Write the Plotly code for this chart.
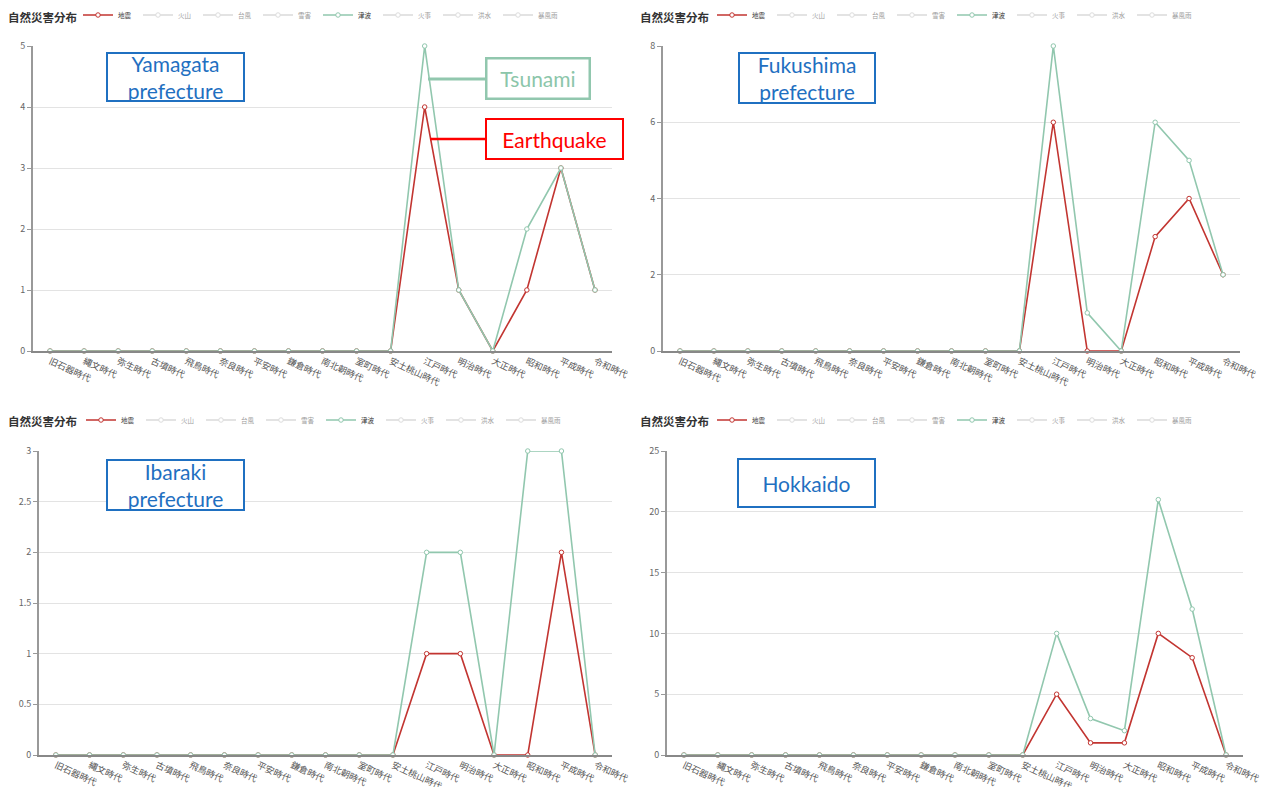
import plotly.graph_objects as go

W, H = 1261, 787

eras = ["旧石器時代", "縄文時代", "弥生時代", "古墳時代", "飛鳥時代", "奈良時代", "平安時代",
        "鎌倉時代", "南北朝時代", "室町時代", "安土桃山時代", "江戸時代", "明治時代", "大正時代",
        "昭和時代", "平成時代", "令和時代"]
hazards = ["地震", "火山", "台風", "雪害", "津波", "火事", "洪水", "暴風雨"]
chart_title = "自然災害分布"
region_names = ["Yamagata<br>prefecture", "Fukushima<br>prefecture", "Ibaraki<br>prefecture", "Hokkaido"]

yamagata_quake   = [0, 0, 0, 0, 0, 0, 0, 0, 0, 0, 0, 4, 1, 0, 1, 3, 1]
yamagata_tsunami = [0, 0, 0, 0, 0, 0, 0, 0, 0, 0, 0, 5, 1, 0, 2, 3, 1]
fukushima_quake   = [0, 0, 0, 0, 0, 0, 0, 0, 0, 0, 0, 6, 0, 0, 3, 4, 2]
fukushima_tsunami = [0, 0, 0, 0, 0, 0, 0, 0, 0, 0, 0, 8, 1, 0, 6, 5, 2]
ibaraki_quake   = [0, 0, 0, 0, 0, 0, 0, 0, 0, 0, 0, 1, 1, 0, 0, 2, 0]
ibaraki_tsunami = [0, 0, 0, 0, 0, 0, 0, 0, 0, 0, 0, 2, 2, 0, 3, 3, 0]
hokkaido_quake   = [0, 0, 0, 0, 0, 0, 0, 0, 0, 0, 0, 5, 1, 1, 10, 8, 0]
hokkaido_tsunami = [0, 0, 0, 0, 0, 0, 0, 0, 0, 0, 0, 10, 3, 2, 21, 12, 0]
# series switched off in the legend (values not shown in the chart)
hidden_series = [None, None, None, None, None, None, None, None, None,
                 None, None, None, None, None, None, None, None]

y_max = [5, 8, 3, 25]
y_step = [1, 2, 0.5, 5]

panels = [
    (yamagata_quake, yamagata_tsunami),
    (fukushima_quake, fukushima_tsunami),
    (ibaraki_quake, ibaraki_tsunami),
    (hokkaido_quake, hokkaido_tsunami),
]

def px(x):
    return x / W

def py(y):
    return 1 - y / H

# plot-area pixel boxes (left, right, top, bottom)
boxes = [(33, 612, 46, 351), (663, 1240, 46, 351), (39, 612, 451, 755), (667, 1243, 451, 755)]
legend_pos = [(318, 15), (952, 15), (321, 420), (952, 420)]
title_pos = [(6, 17), (638, 17), (6, 421), (638, 421)]
label_boxes = [(175.5, 77, 135, 46), (807, 78, 134, 48), (175.5, 485, 135, 48), (806.5, 483, 135, 46)]

colors = {"地震": "#c23531", "津波": "#91c7ae"}
JP = "Noto Sans CJK JP"
EN = "Lato"

fig = go.Figure()
layout = dict(width=W, height=H, margin=dict(l=0, r=0, t=0, b=0, autoexpand=False),
              paper_bgcolor="white", plot_bgcolor="white",
              font=dict(family=JP, color="#333"), showlegend=True,
              annotations=[], shapes=[])

for i, (quake, tsunami) in enumerate(panels):
    n = "" if i == 0 else str(i + 1)
    leg = "legend" if i == 0 else f"legend{i + 1}"
    for hz in hazards:
        if hz in colors:
            ys = quake if hz == "地震" else tsunami
            c = colors[hz]
            fig.add_trace(go.Scatter(
                x=eras, y=ys, name=hz, mode="lines+markers", legend=leg,
                xaxis="x" + n, yaxis="y" + n, cliponaxis=False,
                line=dict(color=c, width=1.6),
                marker=dict(symbol="circle", size=4.5, color="white", line=dict(color=c, width=1)),
            ))
        else:
            fig.add_trace(go.Scatter(
                x=eras, y=hidden_series, name=hz, mode="lines+markers", legend=leg,
                xaxis="x" + n, yaxis="y" + n, visible="legendonly",
                line=dict(color="#bbb", width=1.6),
                marker=dict(symbol="circle", size=4.5, color="white", line=dict(color="#bbb", width=1)),
            ))
    l, r, t, b = boxes[i]
    layout["xaxis" + n] = dict(
        domain=[px(l), px(r)], anchor="y" + n, type="category",
        range=[-0.5, len(eras) - 0.5], tickmode="array", tickvals=eras, ticktext=eras,
        tickangle=25, tickfont=dict(size=9, color="#555", family=JP),
        showline=True, linecolor="#888", linewidth=1.5, showgrid=False, ticks="",
        zeroline=False, fixedrange=True, automargin=False)
    layout["yaxis" + n] = dict(
        domain=[py(b), py(t)], anchor="x" + n, range=[0, y_max[i]], dtick=y_step[i],
        tick0=0, showline=True, linecolor="#999", linewidth=2, ticks="outside",
        ticklen=4, tickcolor="#999", tickfont=dict(size=9, color="#666", family=JP),
        showgrid=True, gridcolor="#e3e3e3", gridwidth=1, zeroline=False, fixedrange=True,
        automargin=False)
    lx, ly = legend_pos[i]
    layout[leg] = dict(orientation="h", x=px(lx), xanchor="center", y=py(ly), yanchor="middle",
                       font=dict(size=6.5, color="#333", family=JP), bgcolor="rgba(0,0,0,0)",
                       entrywidth=15, entrywidthmode="pixels", itemwidth=30,
                       itemclick=False, itemdoubleclick=False)
    tx, ty = title_pos[i]
    layout["annotations"].append(dict(
        text="<b>" + chart_title + "</b>", xref="paper", yref="paper", x=px(tx), y=py(ty),
        xanchor="left", yanchor="middle", showarrow=False,
        font=dict(size=11.5, color="#333", family=JP)))
    cx, cy, bw, bh = label_boxes[i]
    layout["annotations"].append(dict(
        text=region_names[i], xref="paper", yref="paper", x=px(cx), y=py(cy),
        xanchor="center", yanchor="middle", showarrow=False, width=bw, height=bh,
        align="center", valign="middle", bordercolor="#1f70c1", borderwidth=2, borderpad=0,
        bgcolor="white", font=dict(size=21, color="#1f70c1", family=EN)))

# callouts in the first panel
layout["shapes"].append(dict(type="line", xref="paper", yref="paper",
                             x0=px(428), x1=px(485), y0=py(79), y1=py(79),
                             line=dict(color="#91c7ae", width=3)))
layout["shapes"].append(dict(type="line", xref="paper", yref="paper",
                             x0=px(430), x1=px(485), y0=py(139), y1=py(139),
                             line=dict(color="#ff0000", width=2.5)))
layout["annotations"].append(dict(
    text="Tsunami", xref="paper", yref="paper", x=px(537.5), y=py(79),
    xanchor="center", yanchor="middle", showarrow=False, width=101, height=38,
    bordercolor="#91c7ae", borderwidth=2.5, borderpad=0, bgcolor="white",
    font=dict(size=21, color="#8cc6aa", family=EN)))
layout["annotations"].append(dict(
    text="Earthquake", xref="paper", yref="paper", x=px(554.5), y=py(139),
    xanchor="center", yanchor="middle", showarrow=False, width=135, height=38,
    bordercolor="#ff0000", borderwidth=2, borderpad=0, bgcolor="white",
    font=dict(size=21, color="#ff0000", family=EN)))

fig.update_layout(**layout)

post = ("document.documentElement.style.margin='0';"
        "document.body.style.margin='0';"
        "document.body.style.overflow='hidden';"
        "document.documentElement.style.overflow='hidden';"
        "var gd=document.getElementById('{plot_id}');"
        "gd.style.position='fixed';gd.style.left='0px';gd.style.top='0px';")
fig.write_html("out.html", post_script=post, config={"displayModeBar": False})
